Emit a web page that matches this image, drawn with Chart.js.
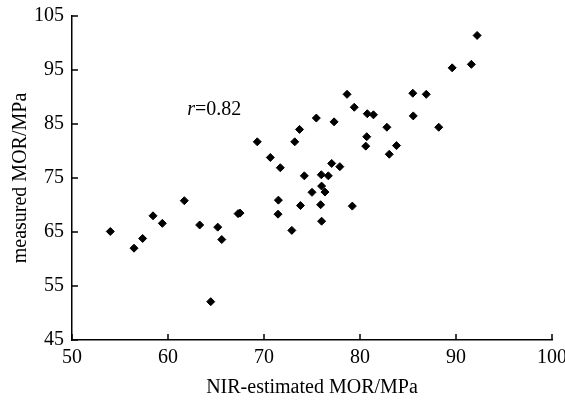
<!DOCTYPE html>
<html lang="en">

<head>
    <meta charset="UTF-8">
    <script src="https://cdn.jsdelivr.net/npm/chart.js"></script>
    <title>MOR</title>
    <style>
        body { margin: 0; background: #fff; }
        #box { width: 565px; height: 403px; }
    </style>
</head>

<body>
    <div id="box">
        <canvas id="mor"></canvas>
    </div>
</body>

</html>
<script>
    // NIR-estimated MOR (x) and measured MOR (y), MPa
    const estimado = [53.99, 56.46, 57.36, 58.44, 59.41, 61.7, 63.3, 64.45, 65.18, 65.6,
        67.3, 67.5, 69.3, 70.66, 71.5, 71.46, 71.7, 72.9, 73.2, 73.7,
        73.8, 74.2, 75.0, 75.45, 75.9, 75.97, 76.0, 76.0, 76.35, 76.7,
        77.05, 77.3, 77.9, 78.65, 79.2, 79.4, 80.6, 80.7, 80.76, 81.4,
        82.8, 83.05, 83.8, 85.5, 85.55, 86.9, 88.2, 89.6, 91.6, 92.2];
    const medido = [65.1, 62.0, 63.8, 68.0, 66.6, 70.8, 66.3, 52.1, 65.9, 63.6,
        68.4, 68.5, 81.7, 78.8, 70.9, 68.3, 76.9, 65.3, 81.7, 84.0,
        69.9, 75.4, 72.35, 86.1, 70.05, 75.6, 73.5, 67.0, 72.4, 75.4,
        77.7, 85.4, 77.1, 90.5, 69.8, 88.1, 80.9, 82.65, 86.9, 86.7,
        84.4, 79.4, 81.0, 90.7, 86.5, 90.5, 84.4, 95.4, 96.05, 101.4];
    const ticksX = [50, 60, 70, 80, 90, 100];
    const ticksY = [45, 55, 65, 75, 85, 95, 105];
    const rTexto = ['r', '=0.82'];

    const fonte = '"Liberation Serif", "Times New Roman", serif';

    const pontos = estimado.map((v, i) => ({ x: v, y: medido[i] }));

    // inward tick marks + r annotation
    const extras = {
        id: 'extras',
        afterDraw(chart) {
            const ctx = chart.ctx;
            const sx = chart.scales.x, sy = chart.scales.y;
            const area = chart.chartArea;
            ctx.save();
            ctx.strokeStyle = '#000';
            ctx.lineWidth = 1.5;
            ctx.beginPath();
            ticksX.forEach(t => {
                const px = sx.getPixelForValue(t);
                ctx.moveTo(px, area.bottom);
                ctx.lineTo(px, area.bottom - 6);
            });
            ticksY.forEach(t => {
                const py = sy.getPixelForValue(t);
                ctx.moveTo(area.left, py);
                ctx.lineTo(area.left + 6, py);
            });
            ctx.stroke();

            ctx.fillStyle = '#000';
            ctx.textBaseline = 'middle';
            ctx.textAlign = 'left';
            let px = sx.getPixelForValue(62.0);
            const py = sy.getPixelForValue(87.6);
            ctx.font = 'italic 20px ' + fonte;
            ctx.fillText(rTexto[0], px, py);
            px += ctx.measureText(rTexto[0]).width;
            ctx.font = '20px ' + fonte;
            ctx.fillText(rTexto[1], px, py);
            ctx.restore();
        }
    };

    const grafico = document.getElementById('mor');

    var pog = new Chart(grafico, {
        type: 'scatter',
        data: {
            datasets: [{
                data: pontos,
                pointStyle: 'rectRot',
                pointRadius: 4,
                borderWidth: 1,
                backgroundColor: '#000',
                borderColor: '#000'
            }]
        },
        options: {
            responsive: true,
            maintainAspectRatio: false,
            animation: false,
            layout: { padding: { top: 16, right: 13, left: 0, bottom: 0 } },
            plugins: {
                legend: { display: false },
                tooltip: { enabled: false }
            },
            scales: {
                x: {
                    min: 50, max: 100,
                    afterBuildTicks: s => { s.ticks = ticksX.map(v => ({ value: v })); },
                    afterFit: s => { s.height = 63; s.paddingLeft = 0; s.paddingRight = 0; },
                    grid: { display: false, drawTicks: false },
                    border: { color: '#000', width: 1.5 },
                    ticks: { color: '#000', padding: 6, font: { family: fonte, size: 20 } },
                    title: {
                        display: true, text: 'NIR-estimated MOR/MPa', color: '#000',
                        padding: { top: 0, bottom: 3 },
                        font: { family: fonte, size: 20 }
                    }
                },
                y: {
                    min: 45, max: 105,
                    afterBuildTicks: s => { s.ticks = ticksY.map(v => ({ value: v })); },
                    afterFit: s => { s.width = 72; s.paddingTop = 0; s.paddingBottom = 0; },
                    grid: { display: false, drawTicks: false },
                    border: { color: '#000', width: 1.5 },
                    ticks: { color: '#000', padding: 8, font: { family: fonte, size: 20 } },
                    title: {
                        display: true, text: 'measured MOR/MPa', color: '#000',
                        padding: { top: 9, bottom: 0 },
                        font: { family: fonte, size: 20 }
                    }
                }
            }
        },
        plugins: [extras]
    });
</script>
